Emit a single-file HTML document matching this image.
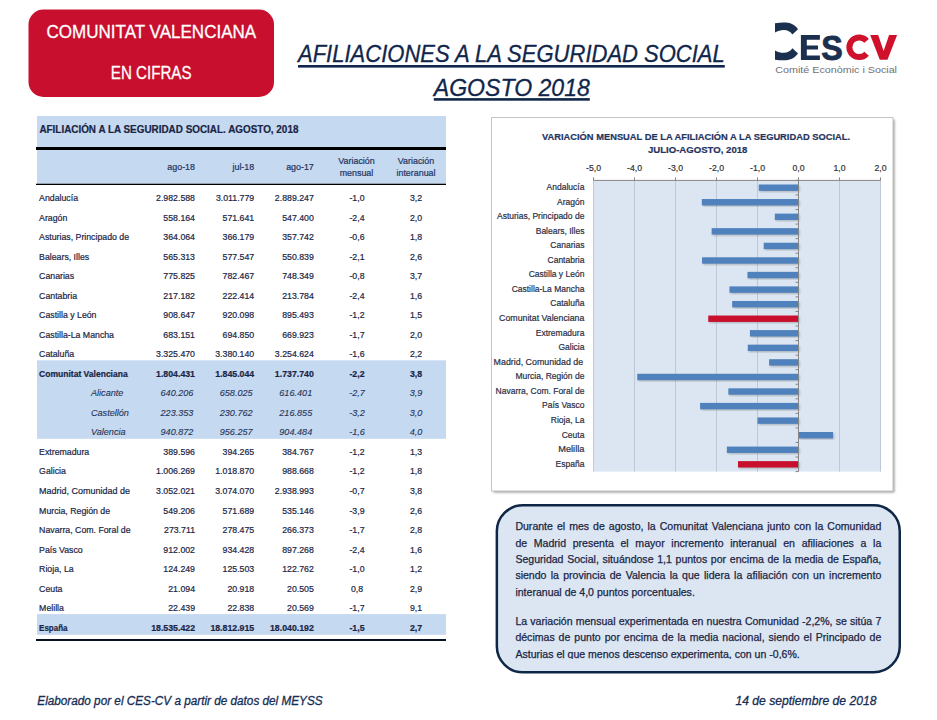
<!DOCTYPE html>
<html><head><meta charset="utf-8"><title>Afiliaciones a la Seguridad Social - Agosto 2018</title>
<style>
html,body{margin:0;padding:0;background:#fff;}
body{width:937px;height:720px;overflow:hidden;position:relative;font-family:"Liberation Sans", sans-serif;}
svg{position:absolute;left:0;top:0;}
svg text{font-family:"Liberation Sans", sans-serif;}
.pl{-webkit-text-stroke:0.25px #1a2545;position:absolute;left:515.4px;width:365.9px;font-size:10.55px;line-height:14px;height:14px;color:#1a2545;text-align:justify;white-space:nowrap;}
.clip{position:absolute;left:497px;top:506px;width:402px;height:154px;overflow:hidden;}
</style></head><body>
<svg width="937" height="720" viewBox="0 0 937 720">
<defs><filter id="blur1" x="-5%" y="-5%" width="110%" height="110%"><feGaussianBlur stdDeviation="0.8"/></filter></defs>
<rect x="28.5" y="9.5" width="245.5" height="87.5" rx="15" ry="15" fill="#c8102e"/>
<text x="46.50" y="37.90" font-size="18.8" fill="#fff" stroke="#fff" stroke-width="0.3" textLength="209.70" lengthAdjust="spacingAndGlyphs">COMUNITAT VALENCIANA</text>
<text x="110.80" y="78.75" font-size="18.8" fill="#fff" stroke="#fff" stroke-width="0.3" textLength="80.70" lengthAdjust="spacingAndGlyphs">EN CIFRAS</text>
<text x="298.00" y="61.60" font-size="23.8" fill="#10264a" stroke="#10264a" stroke-width="0.3" font-style="italic" textLength="426.80" lengthAdjust="spacingAndGlyphs">AFILIACIONES A LA SEGURIDAD SOCIAL</text>
<rect x="298.00" y="65.00" width="426.80" height="2.60" fill="#10264a"/>
<text x="433.80" y="95.80" font-size="23.8" fill="#10264a" stroke="#10264a" stroke-width="0.3" font-style="italic" textLength="156.00" lengthAdjust="spacingAndGlyphs">AGOSTO 2018</text>
<rect x="433.80" y="98.10" width="156.00" height="2.60" fill="#10264a"/>
<path d="M775,23.2 C779,22.6 782.5,22.5 786,22.6 C791,22.8 795.5,25.5 798,29.3 L792.4,34.6 C790.5,31.8 787.5,30.1 784,30.1 C780.5,30.1 777.5,31 775,32.5 Z" fill="#1b2f4f"/>
<path d="M775,59.7 C779,60.3 782.5,60.4 786,60.3 C791,60.1 795.5,57.4 798,53.6 L792.4,48.3 C790.5,51.1 787.5,52.8 784,52.8 C780.5,52.8 777.5,51.9 775,50.4 Z" fill="#1b2f4f"/>
<path d="M800.9,34.9 H819.9 V39.8 H806.8 V45.4 H818 V49.5 H806.8 V55.6 H819.9 V59.9 H800.9 Z" fill="#1b2f4f"/>
<text x="821.2" y="60.1" font-size="35.5" font-weight="bold" fill="#1b2f4f" stroke="#1b2f4f" stroke-width="0.9" textLength="21.5" lengthAdjust="spacingAndGlyphs">S</text>
<path d="M866.6,40.9 A9.8,9.8 0 1 0 866.6,53.7" fill="none" stroke="#d0112b" stroke-width="6"/>
<path d="M870.2,35.1 H878.2 L883.6,51 L889.1,35.1 H897.1 L887.5,59.8 H879.8 Z" fill="#d0112b"/>
<text x="775.30" y="72.80" font-size="9.9" fill="#6f7073" textLength="121.70" lengthAdjust="spacingAndGlyphs">Comité Econòmic i Social</text>
<rect x="37.00" y="116.00" width="409.00" height="67.70" fill="#c5d9f1"/>
<rect x="36.00" y="147.00" width="410.00" height="3.00" fill="#000"/>
<rect x="36.00" y="183.70" width="410.00" height="1.30" fill="#000"/>
<text x="39.40" y="132.70" font-size="10.3" fill="#1a2545" stroke="#1a2545" stroke-width="0.2" font-weight="bold" textLength="259.00" lengthAdjust="spacingAndGlyphs">AFILIACIÓN A LA SEGURIDAD SOCIAL. AGOSTO, 2018</text>
<text x="195.00" y="170.00" font-size="8.9" fill="#1f3460" stroke="#1f3460" stroke-width="0.2" text-anchor="end">ago-18</text>
<text x="254.20" y="170.00" font-size="8.9" fill="#1f3460" stroke="#1f3460" stroke-width="0.2" text-anchor="end">jul-18</text>
<text x="313.80" y="170.00" font-size="8.9" fill="#1f3460" stroke="#1f3460" stroke-width="0.2" text-anchor="end">ago-17</text>
<text x="356.50" y="164.00" font-size="8.9" fill="#1f3460" stroke="#1f3460" stroke-width="0.2" text-anchor="middle">Variación</text>
<text x="356.50" y="175.70" font-size="8.9" fill="#1f3460" stroke="#1f3460" stroke-width="0.2" text-anchor="middle">mensual</text>
<text x="416.00" y="164.00" font-size="8.9" fill="#1f3460" stroke="#1f3460" stroke-width="0.2" text-anchor="middle">Variación</text>
<text x="416.00" y="175.70" font-size="8.9" fill="#1f3460" stroke="#1f3460" stroke-width="0.2" text-anchor="middle">interanual</text>
<rect x="37.00" y="360.30" width="409.00" height="78.50" fill="#c5d9f1"/>
<rect x="37.00" y="614.10" width="409.00" height="20.70" fill="#c5d9f1"/>
<rect x="36.00" y="639.00" width="410.00" height="2.00" fill="#07111f"/>
<text x="39.10" y="201.10" font-size="8.75" fill="#1a2545" stroke="#1a2545" stroke-width="0.2">Andalucía</text>
<text x="195.00" y="201.10" font-size="8.75" fill="#1a2545" stroke="#1a2545" stroke-width="0.2" text-anchor="end">2.982.588</text>
<text x="254.20" y="201.10" font-size="8.75" fill="#1a2545" stroke="#1a2545" stroke-width="0.2" text-anchor="end">3.011.779</text>
<text x="313.80" y="201.10" font-size="8.75" fill="#1a2545" stroke="#1a2545" stroke-width="0.2" text-anchor="end">2.889.247</text>
<text x="357.00" y="201.10" font-size="8.75" fill="#1a2545" stroke="#1a2545" stroke-width="0.2" text-anchor="middle">-1,0</text>
<text x="416.00" y="201.10" font-size="8.75" fill="#1a2545" stroke="#1a2545" stroke-width="0.2" text-anchor="middle">3,2</text>
<text x="39.10" y="220.63" font-size="8.75" fill="#1a2545" stroke="#1a2545" stroke-width="0.2">Aragón</text>
<text x="195.00" y="220.63" font-size="8.75" fill="#1a2545" stroke="#1a2545" stroke-width="0.2" text-anchor="end">558.164</text>
<text x="254.20" y="220.63" font-size="8.75" fill="#1a2545" stroke="#1a2545" stroke-width="0.2" text-anchor="end">571.641</text>
<text x="313.80" y="220.63" font-size="8.75" fill="#1a2545" stroke="#1a2545" stroke-width="0.2" text-anchor="end">547.400</text>
<text x="357.00" y="220.63" font-size="8.75" fill="#1a2545" stroke="#1a2545" stroke-width="0.2" text-anchor="middle">-2,4</text>
<text x="416.00" y="220.63" font-size="8.75" fill="#1a2545" stroke="#1a2545" stroke-width="0.2" text-anchor="middle">2,0</text>
<text x="39.10" y="240.15" font-size="8.75" fill="#1a2545" stroke="#1a2545" stroke-width="0.2">Asturias, Principado de</text>
<text x="195.00" y="240.15" font-size="8.75" fill="#1a2545" stroke="#1a2545" stroke-width="0.2" text-anchor="end">364.064</text>
<text x="254.20" y="240.15" font-size="8.75" fill="#1a2545" stroke="#1a2545" stroke-width="0.2" text-anchor="end">366.179</text>
<text x="313.80" y="240.15" font-size="8.75" fill="#1a2545" stroke="#1a2545" stroke-width="0.2" text-anchor="end">357.742</text>
<text x="357.00" y="240.15" font-size="8.75" fill="#1a2545" stroke="#1a2545" stroke-width="0.2" text-anchor="middle">-0,6</text>
<text x="416.00" y="240.15" font-size="8.75" fill="#1a2545" stroke="#1a2545" stroke-width="0.2" text-anchor="middle">1,8</text>
<text x="39.10" y="259.68" font-size="8.75" fill="#1a2545" stroke="#1a2545" stroke-width="0.2">Balears, Illes</text>
<text x="195.00" y="259.68" font-size="8.75" fill="#1a2545" stroke="#1a2545" stroke-width="0.2" text-anchor="end">565.313</text>
<text x="254.20" y="259.68" font-size="8.75" fill="#1a2545" stroke="#1a2545" stroke-width="0.2" text-anchor="end">577.547</text>
<text x="313.80" y="259.68" font-size="8.75" fill="#1a2545" stroke="#1a2545" stroke-width="0.2" text-anchor="end">550.839</text>
<text x="357.00" y="259.68" font-size="8.75" fill="#1a2545" stroke="#1a2545" stroke-width="0.2" text-anchor="middle">-2,1</text>
<text x="416.00" y="259.68" font-size="8.75" fill="#1a2545" stroke="#1a2545" stroke-width="0.2" text-anchor="middle">2,6</text>
<text x="39.10" y="279.21" font-size="8.75" fill="#1a2545" stroke="#1a2545" stroke-width="0.2">Canarias</text>
<text x="195.00" y="279.21" font-size="8.75" fill="#1a2545" stroke="#1a2545" stroke-width="0.2" text-anchor="end">775.825</text>
<text x="254.20" y="279.21" font-size="8.75" fill="#1a2545" stroke="#1a2545" stroke-width="0.2" text-anchor="end">782.467</text>
<text x="313.80" y="279.21" font-size="8.75" fill="#1a2545" stroke="#1a2545" stroke-width="0.2" text-anchor="end">748.349</text>
<text x="357.00" y="279.21" font-size="8.75" fill="#1a2545" stroke="#1a2545" stroke-width="0.2" text-anchor="middle">-0,8</text>
<text x="416.00" y="279.21" font-size="8.75" fill="#1a2545" stroke="#1a2545" stroke-width="0.2" text-anchor="middle">3,7</text>
<text x="39.10" y="298.74" font-size="8.75" fill="#1a2545" stroke="#1a2545" stroke-width="0.2">Cantabria</text>
<text x="195.00" y="298.74" font-size="8.75" fill="#1a2545" stroke="#1a2545" stroke-width="0.2" text-anchor="end">217.182</text>
<text x="254.20" y="298.74" font-size="8.75" fill="#1a2545" stroke="#1a2545" stroke-width="0.2" text-anchor="end">222.414</text>
<text x="313.80" y="298.74" font-size="8.75" fill="#1a2545" stroke="#1a2545" stroke-width="0.2" text-anchor="end">213.784</text>
<text x="357.00" y="298.74" font-size="8.75" fill="#1a2545" stroke="#1a2545" stroke-width="0.2" text-anchor="middle">-2,4</text>
<text x="416.00" y="298.74" font-size="8.75" fill="#1a2545" stroke="#1a2545" stroke-width="0.2" text-anchor="middle">1,6</text>
<text x="39.10" y="318.26" font-size="8.75" fill="#1a2545" stroke="#1a2545" stroke-width="0.2">Castilla y León</text>
<text x="195.00" y="318.26" font-size="8.75" fill="#1a2545" stroke="#1a2545" stroke-width="0.2" text-anchor="end">908.647</text>
<text x="254.20" y="318.26" font-size="8.75" fill="#1a2545" stroke="#1a2545" stroke-width="0.2" text-anchor="end">920.098</text>
<text x="313.80" y="318.26" font-size="8.75" fill="#1a2545" stroke="#1a2545" stroke-width="0.2" text-anchor="end">895.493</text>
<text x="357.00" y="318.26" font-size="8.75" fill="#1a2545" stroke="#1a2545" stroke-width="0.2" text-anchor="middle">-1,2</text>
<text x="416.00" y="318.26" font-size="8.75" fill="#1a2545" stroke="#1a2545" stroke-width="0.2" text-anchor="middle">1,5</text>
<text x="39.10" y="337.79" font-size="8.75" fill="#1a2545" stroke="#1a2545" stroke-width="0.2">Castilla-La Mancha</text>
<text x="195.00" y="337.79" font-size="8.75" fill="#1a2545" stroke="#1a2545" stroke-width="0.2" text-anchor="end">683.151</text>
<text x="254.20" y="337.79" font-size="8.75" fill="#1a2545" stroke="#1a2545" stroke-width="0.2" text-anchor="end">694.850</text>
<text x="313.80" y="337.79" font-size="8.75" fill="#1a2545" stroke="#1a2545" stroke-width="0.2" text-anchor="end">669.923</text>
<text x="357.00" y="337.79" font-size="8.75" fill="#1a2545" stroke="#1a2545" stroke-width="0.2" text-anchor="middle">-1,7</text>
<text x="416.00" y="337.79" font-size="8.75" fill="#1a2545" stroke="#1a2545" stroke-width="0.2" text-anchor="middle">2,0</text>
<text x="39.10" y="357.32" font-size="8.75" fill="#1a2545" stroke="#1a2545" stroke-width="0.2">Cataluña</text>
<text x="195.00" y="357.32" font-size="8.75" fill="#1a2545" stroke="#1a2545" stroke-width="0.2" text-anchor="end">3.325.470</text>
<text x="254.20" y="357.32" font-size="8.75" fill="#1a2545" stroke="#1a2545" stroke-width="0.2" text-anchor="end">3.380.140</text>
<text x="313.80" y="357.32" font-size="8.75" fill="#1a2545" stroke="#1a2545" stroke-width="0.2" text-anchor="end">3.254.624</text>
<text x="357.00" y="357.32" font-size="8.75" fill="#1a2545" stroke="#1a2545" stroke-width="0.2" text-anchor="middle">-1,6</text>
<text x="416.00" y="357.32" font-size="8.75" fill="#1a2545" stroke="#1a2545" stroke-width="0.2" text-anchor="middle">2,2</text>
<text x="39.10" y="376.84" font-size="8.75" fill="#1a2545" stroke="#1a2545" stroke-width="0.2" font-weight="bold" textLength="88.60" lengthAdjust="spacingAndGlyphs">Comunitat Valenciana</text>
<text x="195.00" y="376.84" font-size="8.75" fill="#1a2545" stroke="#1a2545" stroke-width="0.2" font-weight="bold" text-anchor="end">1.804.431</text>
<text x="254.20" y="376.84" font-size="8.75" fill="#1a2545" stroke="#1a2545" stroke-width="0.2" font-weight="bold" text-anchor="end">1.845.044</text>
<text x="313.80" y="376.84" font-size="8.75" fill="#1a2545" stroke="#1a2545" stroke-width="0.2" font-weight="bold" text-anchor="end">1.737.740</text>
<text x="357.00" y="376.84" font-size="8.75" fill="#1a2545" stroke="#1a2545" stroke-width="0.2" font-weight="bold" text-anchor="middle">-2,2</text>
<text x="416.00" y="376.84" font-size="8.75" fill="#1a2545" stroke="#1a2545" stroke-width="0.2" font-weight="bold" text-anchor="middle">3,8</text>
<text x="91.00" y="396.37" font-size="9.1" fill="#26355a" stroke="#26355a" stroke-width="0.12" font-style="italic">Alicante</text>
<text x="193.40" y="396.37" font-size="9.1" fill="#26355a" stroke="#26355a" stroke-width="0.12" font-style="italic" text-anchor="end">640.206</text>
<text x="252.60" y="396.37" font-size="9.1" fill="#26355a" stroke="#26355a" stroke-width="0.12" font-style="italic" text-anchor="end">658.025</text>
<text x="312.20" y="396.37" font-size="9.1" fill="#26355a" stroke="#26355a" stroke-width="0.12" font-style="italic" text-anchor="end">616.401</text>
<text x="357.00" y="396.37" font-size="9.1" fill="#26355a" stroke="#26355a" stroke-width="0.12" font-style="italic" text-anchor="middle">-2,7</text>
<text x="416.00" y="396.37" font-size="9.1" fill="#26355a" stroke="#26355a" stroke-width="0.12" font-style="italic" text-anchor="middle">3,9</text>
<text x="91.00" y="415.90" font-size="9.1" fill="#26355a" stroke="#26355a" stroke-width="0.12" font-style="italic">Castellón</text>
<text x="193.40" y="415.90" font-size="9.1" fill="#26355a" stroke="#26355a" stroke-width="0.12" font-style="italic" text-anchor="end">223.353</text>
<text x="252.60" y="415.90" font-size="9.1" fill="#26355a" stroke="#26355a" stroke-width="0.12" font-style="italic" text-anchor="end">230.762</text>
<text x="312.20" y="415.90" font-size="9.1" fill="#26355a" stroke="#26355a" stroke-width="0.12" font-style="italic" text-anchor="end">216.855</text>
<text x="357.00" y="415.90" font-size="9.1" fill="#26355a" stroke="#26355a" stroke-width="0.12" font-style="italic" text-anchor="middle">-3,2</text>
<text x="416.00" y="415.90" font-size="9.1" fill="#26355a" stroke="#26355a" stroke-width="0.12" font-style="italic" text-anchor="middle">3,0</text>
<text x="91.00" y="435.42" font-size="9.1" fill="#26355a" stroke="#26355a" stroke-width="0.12" font-style="italic">Valencia</text>
<text x="193.40" y="435.42" font-size="9.1" fill="#26355a" stroke="#26355a" stroke-width="0.12" font-style="italic" text-anchor="end">940.872</text>
<text x="252.60" y="435.42" font-size="9.1" fill="#26355a" stroke="#26355a" stroke-width="0.12" font-style="italic" text-anchor="end">956.257</text>
<text x="312.20" y="435.42" font-size="9.1" fill="#26355a" stroke="#26355a" stroke-width="0.12" font-style="italic" text-anchor="end">904.484</text>
<text x="357.00" y="435.42" font-size="9.1" fill="#26355a" stroke="#26355a" stroke-width="0.12" font-style="italic" text-anchor="middle">-1,6</text>
<text x="416.00" y="435.42" font-size="9.1" fill="#26355a" stroke="#26355a" stroke-width="0.12" font-style="italic" text-anchor="middle">4,0</text>
<text x="39.10" y="454.95" font-size="8.75" fill="#1a2545" stroke="#1a2545" stroke-width="0.2">Extremadura</text>
<text x="195.00" y="454.95" font-size="8.75" fill="#1a2545" stroke="#1a2545" stroke-width="0.2" text-anchor="end">389.596</text>
<text x="254.20" y="454.95" font-size="8.75" fill="#1a2545" stroke="#1a2545" stroke-width="0.2" text-anchor="end">394.265</text>
<text x="313.80" y="454.95" font-size="8.75" fill="#1a2545" stroke="#1a2545" stroke-width="0.2" text-anchor="end">384.767</text>
<text x="357.00" y="454.95" font-size="8.75" fill="#1a2545" stroke="#1a2545" stroke-width="0.2" text-anchor="middle">-1,2</text>
<text x="416.00" y="454.95" font-size="8.75" fill="#1a2545" stroke="#1a2545" stroke-width="0.2" text-anchor="middle">1,3</text>
<text x="39.10" y="474.48" font-size="8.75" fill="#1a2545" stroke="#1a2545" stroke-width="0.2">Galicia</text>
<text x="195.00" y="474.48" font-size="8.75" fill="#1a2545" stroke="#1a2545" stroke-width="0.2" text-anchor="end">1.006.269</text>
<text x="254.20" y="474.48" font-size="8.75" fill="#1a2545" stroke="#1a2545" stroke-width="0.2" text-anchor="end">1.018.870</text>
<text x="313.80" y="474.48" font-size="8.75" fill="#1a2545" stroke="#1a2545" stroke-width="0.2" text-anchor="end">988.668</text>
<text x="357.00" y="474.48" font-size="8.75" fill="#1a2545" stroke="#1a2545" stroke-width="0.2" text-anchor="middle">-1,2</text>
<text x="416.00" y="474.48" font-size="8.75" fill="#1a2545" stroke="#1a2545" stroke-width="0.2" text-anchor="middle">1,8</text>
<text x="39.10" y="494.00" font-size="8.75" fill="#1a2545" stroke="#1a2545" stroke-width="0.2" textLength="90.80" lengthAdjust="spacingAndGlyphs">Madrid, Comunidad de</text>
<text x="195.00" y="494.00" font-size="8.75" fill="#1a2545" stroke="#1a2545" stroke-width="0.2" text-anchor="end">3.052.021</text>
<text x="254.20" y="494.00" font-size="8.75" fill="#1a2545" stroke="#1a2545" stroke-width="0.2" text-anchor="end">3.074.070</text>
<text x="313.80" y="494.00" font-size="8.75" fill="#1a2545" stroke="#1a2545" stroke-width="0.2" text-anchor="end">2.938.993</text>
<text x="357.00" y="494.00" font-size="8.75" fill="#1a2545" stroke="#1a2545" stroke-width="0.2" text-anchor="middle">-0,7</text>
<text x="416.00" y="494.00" font-size="8.75" fill="#1a2545" stroke="#1a2545" stroke-width="0.2" text-anchor="middle">3,8</text>
<text x="39.10" y="513.53" font-size="8.75" fill="#1a2545" stroke="#1a2545" stroke-width="0.2">Murcia, Región de</text>
<text x="195.00" y="513.53" font-size="8.75" fill="#1a2545" stroke="#1a2545" stroke-width="0.2" text-anchor="end">549.206</text>
<text x="254.20" y="513.53" font-size="8.75" fill="#1a2545" stroke="#1a2545" stroke-width="0.2" text-anchor="end">571.689</text>
<text x="313.80" y="513.53" font-size="8.75" fill="#1a2545" stroke="#1a2545" stroke-width="0.2" text-anchor="end">535.146</text>
<text x="357.00" y="513.53" font-size="8.75" fill="#1a2545" stroke="#1a2545" stroke-width="0.2" text-anchor="middle">-3,9</text>
<text x="416.00" y="513.53" font-size="8.75" fill="#1a2545" stroke="#1a2545" stroke-width="0.2" text-anchor="middle">2,6</text>
<text x="39.10" y="533.06" font-size="8.75" fill="#1a2545" stroke="#1a2545" stroke-width="0.2">Navarra, Com. Foral de</text>
<text x="195.00" y="533.06" font-size="8.75" fill="#1a2545" stroke="#1a2545" stroke-width="0.2" text-anchor="end">273.711</text>
<text x="254.20" y="533.06" font-size="8.75" fill="#1a2545" stroke="#1a2545" stroke-width="0.2" text-anchor="end">278.475</text>
<text x="313.80" y="533.06" font-size="8.75" fill="#1a2545" stroke="#1a2545" stroke-width="0.2" text-anchor="end">266.373</text>
<text x="357.00" y="533.06" font-size="8.75" fill="#1a2545" stroke="#1a2545" stroke-width="0.2" text-anchor="middle">-1,7</text>
<text x="416.00" y="533.06" font-size="8.75" fill="#1a2545" stroke="#1a2545" stroke-width="0.2" text-anchor="middle">2,8</text>
<text x="39.10" y="552.59" font-size="8.75" fill="#1a2545" stroke="#1a2545" stroke-width="0.2">País Vasco</text>
<text x="195.00" y="552.59" font-size="8.75" fill="#1a2545" stroke="#1a2545" stroke-width="0.2" text-anchor="end">912.002</text>
<text x="254.20" y="552.59" font-size="8.75" fill="#1a2545" stroke="#1a2545" stroke-width="0.2" text-anchor="end">934.428</text>
<text x="313.80" y="552.59" font-size="8.75" fill="#1a2545" stroke="#1a2545" stroke-width="0.2" text-anchor="end">897.268</text>
<text x="357.00" y="552.59" font-size="8.75" fill="#1a2545" stroke="#1a2545" stroke-width="0.2" text-anchor="middle">-2,4</text>
<text x="416.00" y="552.59" font-size="8.75" fill="#1a2545" stroke="#1a2545" stroke-width="0.2" text-anchor="middle">1,6</text>
<text x="39.10" y="572.11" font-size="8.75" fill="#1a2545" stroke="#1a2545" stroke-width="0.2">Rioja, La</text>
<text x="195.00" y="572.11" font-size="8.75" fill="#1a2545" stroke="#1a2545" stroke-width="0.2" text-anchor="end">124.249</text>
<text x="254.20" y="572.11" font-size="8.75" fill="#1a2545" stroke="#1a2545" stroke-width="0.2" text-anchor="end">125.503</text>
<text x="313.80" y="572.11" font-size="8.75" fill="#1a2545" stroke="#1a2545" stroke-width="0.2" text-anchor="end">122.762</text>
<text x="357.00" y="572.11" font-size="8.75" fill="#1a2545" stroke="#1a2545" stroke-width="0.2" text-anchor="middle">-1,0</text>
<text x="416.00" y="572.11" font-size="8.75" fill="#1a2545" stroke="#1a2545" stroke-width="0.2" text-anchor="middle">1,2</text>
<text x="39.10" y="591.64" font-size="8.75" fill="#1a2545" stroke="#1a2545" stroke-width="0.2">Ceuta</text>
<text x="195.00" y="591.64" font-size="8.75" fill="#1a2545" stroke="#1a2545" stroke-width="0.2" text-anchor="end">21.094</text>
<text x="254.20" y="591.64" font-size="8.75" fill="#1a2545" stroke="#1a2545" stroke-width="0.2" text-anchor="end">20.918</text>
<text x="313.80" y="591.64" font-size="8.75" fill="#1a2545" stroke="#1a2545" stroke-width="0.2" text-anchor="end">20.505</text>
<text x="357.00" y="591.64" font-size="8.75" fill="#1a2545" stroke="#1a2545" stroke-width="0.2" text-anchor="middle">0,8</text>
<text x="416.00" y="591.64" font-size="8.75" fill="#1a2545" stroke="#1a2545" stroke-width="0.2" text-anchor="middle">2,9</text>
<text x="39.10" y="611.17" font-size="8.75" fill="#1a2545" stroke="#1a2545" stroke-width="0.2">Melilla</text>
<text x="195.00" y="611.17" font-size="8.75" fill="#1a2545" stroke="#1a2545" stroke-width="0.2" text-anchor="end">22.439</text>
<text x="254.20" y="611.17" font-size="8.75" fill="#1a2545" stroke="#1a2545" stroke-width="0.2" text-anchor="end">22.838</text>
<text x="313.80" y="611.17" font-size="8.75" fill="#1a2545" stroke="#1a2545" stroke-width="0.2" text-anchor="end">20.569</text>
<text x="357.00" y="611.17" font-size="8.75" fill="#1a2545" stroke="#1a2545" stroke-width="0.2" text-anchor="middle">-1,7</text>
<text x="416.00" y="611.17" font-size="8.75" fill="#1a2545" stroke="#1a2545" stroke-width="0.2" text-anchor="middle">9,1</text>
<text x="39.10" y="630.69" font-size="8.75" fill="#1a2545" stroke="#1a2545" stroke-width="0.2" font-weight="bold" textLength="28.40" lengthAdjust="spacingAndGlyphs">España</text>
<text x="195.00" y="630.69" font-size="8.75" fill="#1a2545" stroke="#1a2545" stroke-width="0.2" font-weight="bold" text-anchor="end">18.535.422</text>
<text x="254.20" y="630.69" font-size="8.75" fill="#1a2545" stroke="#1a2545" stroke-width="0.2" font-weight="bold" text-anchor="end">18.812.915</text>
<text x="313.80" y="630.69" font-size="8.75" fill="#1a2545" stroke="#1a2545" stroke-width="0.2" font-weight="bold" text-anchor="end">18.040.192</text>
<text x="357.00" y="630.69" font-size="8.75" fill="#1a2545" stroke="#1a2545" stroke-width="0.2" font-weight="bold" text-anchor="middle">-1,5</text>
<text x="416.00" y="630.69" font-size="8.75" fill="#1a2545" stroke="#1a2545" stroke-width="0.2" font-weight="bold" text-anchor="middle">2,7</text>
<rect x="493.5" y="119.5" width="401" height="373" fill="#9a9a9a" filter="url(#blur1)"/>
<rect x="491.5" y="117.5" width="401.5" height="373.5" fill="#fff" stroke="#c4c4c4" stroke-width="1"/>
<text x="696.00" y="139.85" font-size="9.9" fill="#1f3460" stroke="#1f3460" stroke-width="0.2" font-weight="bold" text-anchor="middle" textLength="308.00" lengthAdjust="spacingAndGlyphs">VARIACIÓN MENSUAL DE LA AFILIACIÓN A LA SEGURIDAD SOCIAL.</text>
<text x="697.70" y="152.50" font-size="9.9" fill="#1f3460" stroke="#1f3460" stroke-width="0.2" font-weight="bold" text-anchor="middle" textLength="99.50" lengthAdjust="spacingAndGlyphs">JULIO-AGOSTO, 2018</text>
<rect x="593.50" y="180.40" width="287.00" height="291.20" fill="#dce6f2"/>
<line x1="593.50" y1="180.40" x2="593.50" y2="471.60" stroke="#bfc8d7" stroke-width="1"/>
<line x1="593.50" y1="177.40" x2="593.50" y2="180.40" stroke="#868686" stroke-width="1"/>
<text x="593.50" y="170.80" font-size="8.7" fill="#333" stroke="#333" stroke-width="0.2" text-anchor="middle">-5,0</text>
<line x1="634.50" y1="180.40" x2="634.50" y2="471.60" stroke="#bfc8d7" stroke-width="1"/>
<line x1="634.50" y1="177.40" x2="634.50" y2="180.40" stroke="#868686" stroke-width="1"/>
<text x="634.50" y="170.80" font-size="8.7" fill="#333" stroke="#333" stroke-width="0.2" text-anchor="middle">-4,0</text>
<line x1="675.50" y1="180.40" x2="675.50" y2="471.60" stroke="#bfc8d7" stroke-width="1"/>
<line x1="675.50" y1="177.40" x2="675.50" y2="180.40" stroke="#868686" stroke-width="1"/>
<text x="675.50" y="170.80" font-size="8.7" fill="#333" stroke="#333" stroke-width="0.2" text-anchor="middle">-3,0</text>
<line x1="716.50" y1="180.40" x2="716.50" y2="471.60" stroke="#bfc8d7" stroke-width="1"/>
<line x1="716.50" y1="177.40" x2="716.50" y2="180.40" stroke="#868686" stroke-width="1"/>
<text x="716.50" y="170.80" font-size="8.7" fill="#333" stroke="#333" stroke-width="0.2" text-anchor="middle">-2,0</text>
<line x1="757.50" y1="180.40" x2="757.50" y2="471.60" stroke="#bfc8d7" stroke-width="1"/>
<line x1="757.50" y1="177.40" x2="757.50" y2="180.40" stroke="#868686" stroke-width="1"/>
<text x="757.50" y="170.80" font-size="8.7" fill="#333" stroke="#333" stroke-width="0.2" text-anchor="middle">-1,0</text>
<line x1="798.50" y1="177.40" x2="798.50" y2="180.40" stroke="#868686" stroke-width="1"/>
<text x="798.50" y="170.80" font-size="8.7" fill="#333" stroke="#333" stroke-width="0.2" text-anchor="middle">0,0</text>
<line x1="839.50" y1="180.40" x2="839.50" y2="471.60" stroke="#bfc8d7" stroke-width="1"/>
<line x1="839.50" y1="177.40" x2="839.50" y2="180.40" stroke="#868686" stroke-width="1"/>
<text x="839.50" y="170.80" font-size="8.7" fill="#333" stroke="#333" stroke-width="0.2" text-anchor="middle">1,0</text>
<line x1="880.50" y1="180.40" x2="880.50" y2="471.60" stroke="#bfc8d7" stroke-width="1"/>
<line x1="880.50" y1="177.40" x2="880.50" y2="180.40" stroke="#868686" stroke-width="1"/>
<text x="880.50" y="170.80" font-size="8.7" fill="#333" stroke="#333" stroke-width="0.2" text-anchor="middle">2,0</text>
<line x1="593.50" y1="180.40" x2="880.50" y2="180.40" stroke="#868686" stroke-width="1"/>
<rect x="759.96" y="185.68" width="39.74" height="6.4" fill="#555" opacity="0.35" filter="url(#blur1)"/>
<rect x="758.76" y="184.48" width="39.74" height="6.40" fill="#4f81bd"/>
<text x="584.40" y="189.98" font-size="8.5" fill="#2a2f45" stroke="#2a2f45" stroke-width="0.2" text-anchor="end">Andalucía</text>
<rect x="703.04" y="200.24" width="96.66" height="6.4" fill="#555" opacity="0.35" filter="url(#blur1)"/>
<rect x="701.84" y="199.04" width="96.66" height="6.40" fill="#4f81bd"/>
<text x="584.40" y="204.54" font-size="8.5" fill="#2a2f45" stroke="#2a2f45" stroke-width="0.2" text-anchor="end">Aragón</text>
<rect x="776.02" y="214.80" width="23.68" height="6.4" fill="#555" opacity="0.35" filter="url(#blur1)"/>
<rect x="774.82" y="213.60" width="23.68" height="6.40" fill="#4f81bd"/>
<text x="584.40" y="219.10" font-size="8.5" fill="#2a2f45" stroke="#2a2f45" stroke-width="0.2" text-anchor="end">Asturias, Principado de</text>
<rect x="712.85" y="229.36" width="86.85" height="6.4" fill="#555" opacity="0.35" filter="url(#blur1)"/>
<rect x="711.65" y="228.16" width="86.85" height="6.40" fill="#4f81bd"/>
<text x="584.40" y="233.66" font-size="8.5" fill="#2a2f45" stroke="#2a2f45" stroke-width="0.2" text-anchor="end">Balears, Illes</text>
<rect x="764.90" y="243.92" width="34.80" height="6.4" fill="#555" opacity="0.35" filter="url(#blur1)"/>
<rect x="763.70" y="242.72" width="34.80" height="6.40" fill="#4f81bd"/>
<text x="584.40" y="248.22" font-size="8.5" fill="#2a2f45" stroke="#2a2f45" stroke-width="0.2" text-anchor="end">Canarias</text>
<rect x="703.25" y="258.48" width="96.45" height="6.4" fill="#555" opacity="0.35" filter="url(#blur1)"/>
<rect x="702.05" y="257.28" width="96.45" height="6.40" fill="#4f81bd"/>
<text x="584.40" y="262.78" font-size="8.5" fill="#2a2f45" stroke="#2a2f45" stroke-width="0.2" text-anchor="end">Cantabria</text>
<rect x="748.67" y="273.04" width="51.03" height="6.4" fill="#555" opacity="0.35" filter="url(#blur1)"/>
<rect x="747.47" y="271.84" width="51.03" height="6.40" fill="#4f81bd"/>
<text x="584.40" y="277.34" font-size="8.5" fill="#2a2f45" stroke="#2a2f45" stroke-width="0.2" text-anchor="end">Castilla y León</text>
<rect x="730.67" y="287.60" width="69.03" height="6.4" fill="#555" opacity="0.35" filter="url(#blur1)"/>
<rect x="729.47" y="286.40" width="69.03" height="6.40" fill="#4f81bd"/>
<text x="584.40" y="291.90" font-size="8.5" fill="#2a2f45" stroke="#2a2f45" stroke-width="0.2" text-anchor="end">Castilla-La Mancha</text>
<rect x="733.39" y="302.16" width="66.31" height="6.4" fill="#555" opacity="0.35" filter="url(#blur1)"/>
<rect x="732.19" y="300.96" width="66.31" height="6.40" fill="#4f81bd"/>
<text x="584.40" y="306.46" font-size="8.5" fill="#2a2f45" stroke="#2a2f45" stroke-width="0.2" text-anchor="end">Cataluña</text>
<rect x="709.45" y="316.72" width="90.25" height="6.4" fill="#555" opacity="0.35" filter="url(#blur1)"/>
<rect x="708.25" y="315.52" width="90.25" height="6.40" fill="#c8102e"/>
<text x="584.40" y="321.02" font-size="8.5" fill="#2a2f45" stroke="#2a2f45" stroke-width="0.2" text-anchor="end" textLength="85.30" lengthAdjust="spacingAndGlyphs">Comunitat Valenciana</text>
<rect x="751.15" y="331.28" width="48.55" height="6.4" fill="#555" opacity="0.35" filter="url(#blur1)"/>
<rect x="749.95" y="330.08" width="48.55" height="6.40" fill="#4f81bd"/>
<text x="584.40" y="335.58" font-size="8.5" fill="#2a2f45" stroke="#2a2f45" stroke-width="0.2" text-anchor="end">Extremadura</text>
<rect x="748.99" y="345.84" width="50.71" height="6.4" fill="#555" opacity="0.35" filter="url(#blur1)"/>
<rect x="747.79" y="344.64" width="50.71" height="6.40" fill="#4f81bd"/>
<text x="584.40" y="350.14" font-size="8.5" fill="#2a2f45" stroke="#2a2f45" stroke-width="0.2" text-anchor="end">Galicia</text>
<rect x="770.29" y="360.40" width="29.41" height="6.4" fill="#555" opacity="0.35" filter="url(#blur1)"/>
<rect x="769.09" y="359.20" width="29.41" height="6.40" fill="#4f81bd"/>
<text x="583.20" y="364.70" font-size="8.5" fill="#2a2f45" stroke="#2a2f45" stroke-width="0.2" text-anchor="end" textLength="89.60" lengthAdjust="spacingAndGlyphs">Madrid, Comunidad de</text>
<rect x="638.46" y="374.96" width="161.24" height="6.4" fill="#555" opacity="0.35" filter="url(#blur1)"/>
<rect x="637.26" y="373.76" width="161.24" height="6.40" fill="#4f81bd"/>
<text x="584.40" y="379.26" font-size="8.5" fill="#2a2f45" stroke="#2a2f45" stroke-width="0.2" text-anchor="end">Murcia, Región de</text>
<rect x="729.56" y="389.52" width="70.14" height="6.4" fill="#555" opacity="0.35" filter="url(#blur1)"/>
<rect x="728.36" y="388.32" width="70.14" height="6.40" fill="#4f81bd"/>
<text x="584.40" y="393.82" font-size="8.5" fill="#2a2f45" stroke="#2a2f45" stroke-width="0.2" text-anchor="end">Navarra, Com. Foral de</text>
<rect x="701.30" y="404.08" width="98.40" height="6.4" fill="#555" opacity="0.35" filter="url(#blur1)"/>
<rect x="700.10" y="402.88" width="98.40" height="6.40" fill="#4f81bd"/>
<text x="584.40" y="408.38" font-size="8.5" fill="#2a2f45" stroke="#2a2f45" stroke-width="0.2" text-anchor="end">País Vasco</text>
<rect x="758.73" y="418.64" width="40.97" height="6.4" fill="#555" opacity="0.35" filter="url(#blur1)"/>
<rect x="757.53" y="417.44" width="40.97" height="6.40" fill="#4f81bd"/>
<text x="584.40" y="422.94" font-size="8.5" fill="#2a2f45" stroke="#2a2f45" stroke-width="0.2" text-anchor="end">Rioja, La</text>
<rect x="799.70" y="433.20" width="34.50" height="6.4" fill="#555" opacity="0.35" filter="url(#blur1)"/>
<rect x="798.50" y="432.00" width="34.50" height="6.40" fill="#4f81bd"/>
<text x="584.40" y="437.50" font-size="8.5" fill="#2a2f45" stroke="#2a2f45" stroke-width="0.2" text-anchor="end">Ceuta</text>
<rect x="728.07" y="447.76" width="71.63" height="6.4" fill="#555" opacity="0.35" filter="url(#blur1)"/>
<rect x="726.87" y="446.56" width="71.63" height="6.40" fill="#4f81bd"/>
<text x="584.40" y="452.06" font-size="8.5" fill="#2a2f45" stroke="#2a2f45" stroke-width="0.2" text-anchor="end" textLength="26.20" lengthAdjust="spacingAndGlyphs">Melilla</text>
<rect x="739.22" y="462.32" width="60.48" height="6.4" fill="#555" opacity="0.35" filter="url(#blur1)"/>
<rect x="738.02" y="461.12" width="60.48" height="6.40" fill="#c8102e"/>
<text x="584.40" y="466.62" font-size="8.5" fill="#2a2f45" stroke="#2a2f45" stroke-width="0.2" text-anchor="end">España</text>
<line x1="798.50" y1="180.40" x2="798.50" y2="471.60" stroke="#868686" stroke-width="1"/>
<line x1="795.50" y1="180.40" x2="798.50" y2="180.40" stroke="#868686" stroke-width="1"/>
<line x1="795.50" y1="194.96" x2="798.50" y2="194.96" stroke="#868686" stroke-width="1"/>
<line x1="795.50" y1="209.52" x2="798.50" y2="209.52" stroke="#868686" stroke-width="1"/>
<line x1="795.50" y1="224.08" x2="798.50" y2="224.08" stroke="#868686" stroke-width="1"/>
<line x1="795.50" y1="238.64" x2="798.50" y2="238.64" stroke="#868686" stroke-width="1"/>
<line x1="795.50" y1="253.20" x2="798.50" y2="253.20" stroke="#868686" stroke-width="1"/>
<line x1="795.50" y1="267.76" x2="798.50" y2="267.76" stroke="#868686" stroke-width="1"/>
<line x1="795.50" y1="282.32" x2="798.50" y2="282.32" stroke="#868686" stroke-width="1"/>
<line x1="795.50" y1="296.88" x2="798.50" y2="296.88" stroke="#868686" stroke-width="1"/>
<line x1="795.50" y1="311.44" x2="798.50" y2="311.44" stroke="#868686" stroke-width="1"/>
<line x1="795.50" y1="326.00" x2="798.50" y2="326.00" stroke="#868686" stroke-width="1"/>
<line x1="795.50" y1="340.56" x2="798.50" y2="340.56" stroke="#868686" stroke-width="1"/>
<line x1="795.50" y1="355.12" x2="798.50" y2="355.12" stroke="#868686" stroke-width="1"/>
<line x1="795.50" y1="369.68" x2="798.50" y2="369.68" stroke="#868686" stroke-width="1"/>
<line x1="795.50" y1="384.24" x2="798.50" y2="384.24" stroke="#868686" stroke-width="1"/>
<line x1="795.50" y1="398.80" x2="798.50" y2="398.80" stroke="#868686" stroke-width="1"/>
<line x1="795.50" y1="413.36" x2="798.50" y2="413.36" stroke="#868686" stroke-width="1"/>
<line x1="795.50" y1="427.92" x2="798.50" y2="427.92" stroke="#868686" stroke-width="1"/>
<line x1="795.50" y1="442.48" x2="798.50" y2="442.48" stroke="#868686" stroke-width="1"/>
<line x1="795.50" y1="457.04" x2="798.50" y2="457.04" stroke="#868686" stroke-width="1"/>
<line x1="795.50" y1="471.60" x2="798.50" y2="471.60" stroke="#868686" stroke-width="1"/>
<rect x="496.85" y="505.35" width="402.9" height="167" rx="26" ry="26" fill="#dce6f2" stroke="#0f2746" stroke-width="2.5"/>
<text x="37.30" y="704.50" font-size="12.3" fill="#162d56" stroke="#162d56" stroke-width="0.3" font-style="italic" textLength="285.30" lengthAdjust="spacingAndGlyphs">Elaborado por el CES-CV a partir de datos del MEYSS</text>
<text x="735.40" y="704.60" font-size="12.3" fill="#162d56" stroke="#162d56" stroke-width="0.3" font-style="italic" textLength="141.10" lengthAdjust="spacingAndGlyphs">14 de septiembre de 2018</text>
</svg>
<div class="pl" style="top:518.94px;text-align-last:justify">Durante el mes de agosto, la Comunitat Valenciana junto con la Comunidad</div><div class="pl" style="top:535.54px;text-align-last:justify">de Madrid presenta el mayor incremento interanual en afiliaciones a la</div><div class="pl" style="top:552.04px;text-align-last:justify">Seguridad Social, situándose 1,1 puntos por encima de la media de España,</div><div class="pl" style="top:568.24px;text-align-last:justify">siendo la provincia de Valencia la que lidera la afiliación con un incremento</div><div class="pl" style="top:584.94px;text-align-last:left">interanual de 4,0 puntos porcentuales.</div><div class="pl" style="top:613.74px;text-align-last:justify">La variación mensual experimentada en nuestra Comunidad -2,2%, se sitúa 7</div><div class="pl" style="top:630.04px;text-align-last:justify">décimas de punto por encima de la media nacional, siendo el Principado de</div><div class="pl" style="top:646.64px;text-align-last:left;height:12.36px;overflow:hidden">Asturias el que menos descenso experimenta, con un -0,6%.</div>
</body></html>
